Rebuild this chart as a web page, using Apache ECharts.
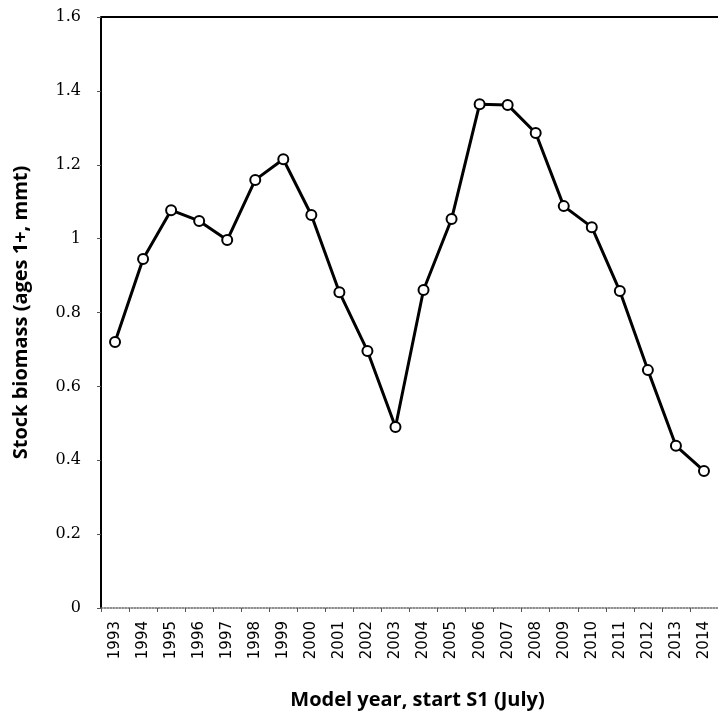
<!DOCTYPE html>
<html>
<head>
<meta charset="utf-8">
<script src="https://cdn.jsdelivr.net/npm/echarts@6/dist/echarts.min.js"></script>
<style>
    html, body { margin: 0; padding: 0; background: #fff; }
    #chart { width: 718px; height: 723px; }
</style>
</head>
<body>
<div id="chart"></div>
<script>
    // data
    var years = ['1993', '1994', '1995', '1996', '1997', '1998', '1999', '2000', '2001', '2002', '2003',
        '2004', '2005', '2006', '2007', '2008', '2009', '2010', '2011', '2012', '2013', '2014'];
    var biomass = [0.72, 0.945, 1.077, 1.048, 0.996, 1.159, 1.215, 1.064, 0.855, 0.696, 0.49,
        0.861, 1.053, 1.364, 1.362, 1.286, 1.088, 1.031, 0.858, 0.644, 0.439, 0.371];
    var yTicks = [0, 0.2, 0.4, 0.6, 0.8, 1, 1.2, 1.4, 1.6];

    var chart = echarts.init(document.getElementById('chart'));
    var option = {
        animation: false,
        grid: {left: 101, right: -7, top: 17, bottom: 115, containLabel: false},
        xAxis: {
            type: 'category',
            data: years,
            boundaryGap: true,
            name: 'Model year, start S1 (July)',
            nameLocation: 'middle',
            nameGap: 82,
            nameTextStyle: {
                fontFamily: 'Open Sans', fontWeight: 'bold', fontSize: 20, color: '#000',
                padding: [0, 0, 0, 16]
            },
            axisLine: {lineStyle: {color: '#666', type: 'dotted', width: 1.5}},
            axisTick: {show: true, length: 4, lineStyle: {color: '#555'}},
            axisLabel: {rotate: 90, fontFamily: 'DejaVu Sans', fontSize: 15, color: '#000', margin: 13}
        },
        yAxis: {
            type: 'value',
            min: 0,
            max: 1.6,
            interval: 0.2,
            name: 'Stock biomass (ages 1+, mmt)',
            nameLocation: 'middle',
            nameGap: 70,
            nameTextStyle: {fontFamily: 'Open Sans', fontWeight: 'bold', fontSize: 20, color: '#000'},
            axisLine: {show: true, lineStyle: {color: '#000', width: 2}},
            axisTick: {show: true, length: 4, lineStyle: {color: '#555'}},
            splitLine: {show: false},
            axisLabel: {
                fontFamily: 'DejaVu Serif', fontSize: 16, color: '#000', margin: 20,
                formatter: function (v) {
                    var t = yTicks.find(function (x) { return Math.abs(x - v) < 1e-6; });
                    return t === undefined ? '' : String(t);
                }
            }
        },
        series: [{
            type: 'line',
            data: biomass,
            symbol: 'circle',
            symbolSize: 10,
            lineStyle: {color: '#000', width: 3},
            itemStyle: {color: '#fff', borderColor: '#000', borderWidth: 2}
        }],
        graphic: [{
            type: 'line',
            shape: {x1: 101, y1: 17, x2: 718, y2: 17},
            style: {stroke: '#000', lineWidth: 2}
        }]
    };
    chart.setOption(option);
</script>
</body>
</html>
